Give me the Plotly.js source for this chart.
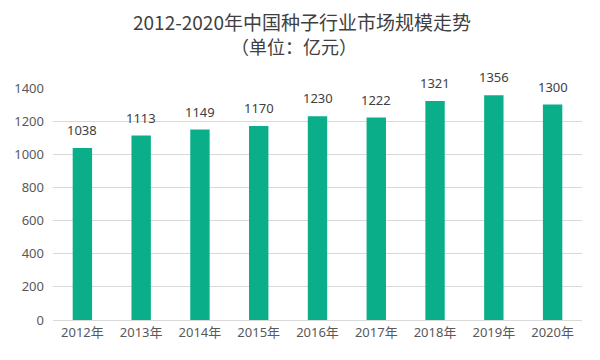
<!DOCTYPE html>
<html><head><meta charset="utf-8">
<script src="https://cdn.plot.ly/plotly-3.0.1.min.js"></script>
<style>html,body{margin:0;padding:0;background:#fff}#chart{width:600px;height:360px}</style>
</head><body><div id="chart"></div>
<script>
const categories = ["2012年","2013年","2014年","2015年","2016年","2017年","2018年","2019年","2020年"];
const values = [1038,1113,1149,1170,1230,1222,1321,1356,1300];
const yTicks = [0,200,400,600,800,1000,1200,1400];
const titleLine1 = "2012-2020年中国种子行业市场规模走势";
const titleLine2 = "（单位：亿元）";

const font = "'Noto Sans', 'Noto Sans CJK SC', sans-serif";
const cjk = "'Noto Sans CJK SC', sans-serif";
const labelAnns = categories.map((c, i) => ({
  text: String(values[i]), x: c, y: values[i], xref: 'x', yref: 'y',
  yanchor: 'bottom', yshift: 7, showarrow: false,
  font: {family: font, size: 13, color: '#404040'}
}));
Plotly.newPlot('chart', [{
  type: 'bar', x: categories, y: values,
  marker: {color: '#0AAF8A'},
  hoverinfo: 'none'
}], {
  width: 600, height: 360,
  margin: {l: 53, r: 18, t: 88, b: 40},
  bargap: 0.67,
  paper_bgcolor: '#fff', plot_bgcolor: '#fff',
  annotations: [
    {text: titleLine1, xref: 'paper', yref: 'paper', x: 0.47, y: 1, yshift: 67, xanchor: 'center', yanchor: 'middle', showarrow: false,
      font: {family: cjk, size: 19, color: '#404040'}},
    {text: titleLine2, xref: 'paper', yref: 'paper', x: 0.455, y: 1, yshift: 42, xanchor: 'center', yanchor: 'middle', showarrow: false,
      font: {family: cjk, size: 18, color: '#404040'}}
  ].concat(labelAnns),
  xaxis: {tickfont: {family: font, size: 13, color: '#595959'}, showline: true, linecolor: '#D9D9D9', ticks: ''},
  yaxis: {range: [0, 1400], tickvals: yTicks, tickfont: {family: font, size: 13, color: '#595959'},
    gridcolor: '#D9D9D9', zeroline: false, ticks: '', ticklabelstandoff: 8},
  showlegend: false
}, {displayModeBar: false, staticPlot: true});
</script></body></html>
